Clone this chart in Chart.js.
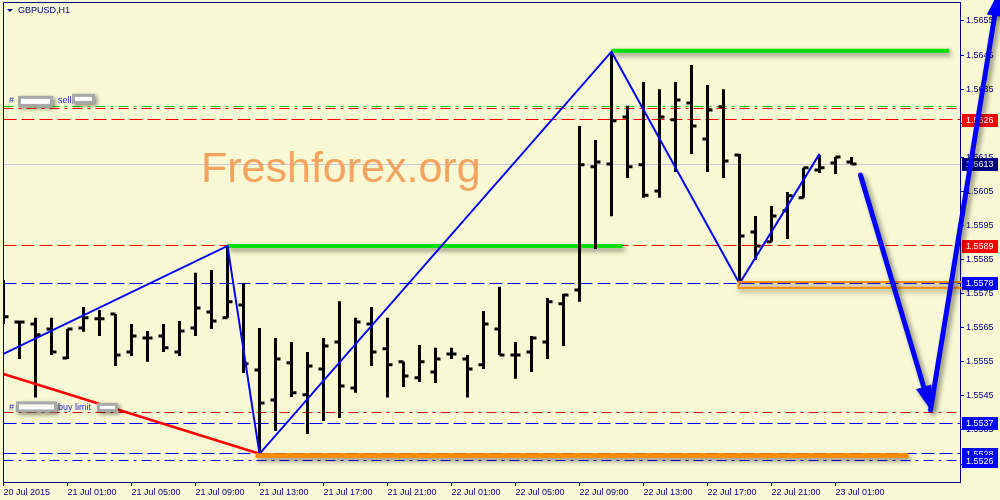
<!DOCTYPE html>
<html>
<head>
<meta charset="utf-8">
<script src="https://cdn.jsdelivr.net/npm/chart.js@4.4.1/dist/chart.umd.min.js"></script>
<style>
html, body { margin: 0; padding: 0; background: #f8f8d4; }
</style>
</head>
<body>
<canvas id="mygraph" width="1000" height="500"></canvas>
<script>
// GBPUSD H1 bars, one per hour from 20 Jul 21:00
let timeLabels = ["20 Jul 2015", "21 Jul 01:00", "21 Jul 05:00", "21 Jul 09:00", "21 Jul 13:00", "21 Jul 17:00", "21 Jul 21:00",
  "22 Jul 01:00", "22 Jul 05:00", "22 Jul 09:00", "22 Jul 13:00", "22 Jul 17:00", "22 Jul 21:00", "23 Jul 01:00"];
var yTickValues = [1.5525, 1.5535, 1.5545, 1.5555, 1.5565, 1.5575, 1.5585, 1.5595, 1.5605, 1.5615, 1.5625, 1.5635, 1.5645, 1.5655];

var opens = [1.55731, 1.55667, 1.55661, 1.55646, 1.55561, 1.55649, 1.55676, 1.55690, 1.55579, 1.55620,
  1.55626, 1.55579, 1.55649, 1.55696, 1.55679, 1.55717, 1.55526, 1.55438, 1.55547, 1.55453,
  1.55529, 1.55608, 1.55473, 1.55661, 1.55588, 1.55550, 1.55503, 1.55520, 1.55573, 1.55558,
  1.55541, 1.55646, 1.55570, 1.55579, 1.55608, 1.55720, 1.55761, 1.56122, 1.56130, 1.56268,
  1.56128, 1.56051, 1.56260, 1.56309, 1.56204, 1.56298, 1.56157, 1.55931, 1.55902, 1.55993,
  1.56031, 1.56113, 1.56133, 1.56136];
var highs = [1.55790, 1.55670, 1.55679, 1.55679, 1.55646, 1.55711, 1.55702, 1.55690, 1.55661, 1.55640,
  1.55661, 1.55670, 1.55811, 1.55819, 1.55890, 1.55781, 1.55649, 1.55620, 1.55608, 1.55579,
  1.55620, 1.55728, 1.55679, 1.55711, 1.55679, 1.55550, 1.55599, 1.55591, 1.55591, 1.55570,
  1.55699, 1.55770, 1.55608, 1.55626, 1.55737, 1.55749, 1.56242, 1.56201, 1.56459, 1.56301,
  1.56371, 1.56350, 1.56371, 1.56421, 1.56362, 1.56350, 1.56160, 1.55978, 1.56007, 1.56048,
  1.56119, 1.56157, 1.56151, 1.56151];
var lows = [1.55661, 1.55558, 1.55445, 1.55570, 1.55558, 1.55638, 1.55626, 1.55538, 1.55567, 1.55550,
  1.55579, 1.55567, 1.55626, 1.55646, 1.55679, 1.55517, 1.55283, 1.55347, 1.55447, 1.55338,
  1.55376, 1.55385, 1.55459, 1.55538, 1.55445, 1.55476, 1.55491, 1.55488, 1.55558, 1.55445,
  1.55529, 1.55570, 1.55500, 1.55520, 1.55558, 1.55596, 1.55726, 1.55881, 1.55977, 1.56089,
  1.56031, 1.56031, 1.56107, 1.56160, 1.56107, 1.56089, 1.55781, 1.55849, 1.55902, 1.55910,
  1.56031, 1.56104, 1.56101, 1.56128];
var closes = [1.55682, 1.55667, 1.55629, 1.55579, 1.55646, 1.55679, 1.55676, 1.55570, 1.55626, 1.55620,
  1.55591, 1.55640, 1.55708, 1.55670, 1.55726, 1.55544, 1.55429, 1.55558, 1.55459, 1.55538,
  1.55596, 1.55479, 1.55667, 1.55579, 1.55541, 1.55508, 1.55550, 1.55558, 1.55573, 1.55529,
  1.55661, 1.55570, 1.55570, 1.55620, 1.55726, 1.55746, 1.56128, 1.56136, 1.56257, 1.56122,
  1.56039, 1.56268, 1.56318, 1.56242, 1.56289, 1.56139, 1.55919, 1.55890, 1.55978, 1.56037,
  1.56119, 1.56119, 1.56151, 1.56130];

// horizontal levels (orders, stops, bid)
var levelPrices = [1.56298, 1.56292, 1.5626, 1.5613, 1.5589, 1.5578, 1.5540, 1.5537, 1.5528, 1.5526];
// prices shown in coloured boxes on the price axis
var markPrices = [1.5626, 1.5613, 1.5589, 1.5578, 1.5537, 1.5528, 1.5526];

// zigzag and trend line (bar index, price)
var zigzagIdx = [0, 14, 16, 38, 46, 51];
var zigzagPrice = [1.55573, 1.5589, 1.5528, 1.5646, 1.5578, 1.5616];
var trendIdx = [0, 16];
var trendPrice = [1.55514, 1.5528];
// green horizontal segments
var greenFrom = [14, 38];
var greenTo = [38.7, 59.1];
var greenPrice = [1.5589, 1.56463];
// orange rectangles
var boxFrom = [45.94, 15.75];
var boxTo = [60.19, 56.56];
var boxTop = [1.55784, 1.55282];
var boxBottom = [1.55767, 1.55268];
// hand drawn forecast arrow
var arrowIdx = [53.56, 57.94, 62.19];
var arrowPrice = [1.56098, 1.55409, 1.56635];

var xMax = 59.78;
var yMin = 1.551973;
var yMax = 1.566057;

var navy = '#000080';
var bg = '#f8f8d4';
var fontFam = "'Liberation Sans', Arial, sans-serif";
var DASH = [13, 5, 13, 5];
var DASHDOT = [10, 5, 3, 5];
var levelColors = ['#00c800', '#ff0000', '#ff0000', '#c8c8d8', '#ff0000', '#0000ff', '#d01010', '#0000ff', '#0000ff', '#0000ff'];
var levelDash = [DASHDOT, DASHDOT, DASH, [], DASH, DASH, DASHDOT, DASH, DASH, DASHDOT];
var markColors = ['#ff0000', '#000080', '#ff0000', '#0000ff', '#0000ff', '#0000ff', '#0000ff'];

function shadowOn(c, blur, dx, dy) {
  c.shadowColor = 'rgba(0,0,0,0.45)';
  c.shadowBlur = blur;
  c.shadowOffsetX = dx;
  c.shadowOffsetY = dy;
}

function drawArrow(c, x1, y1, x2, y2) {
  var ang = Math.atan2(y2 - y1, x2 - x1);
  var hl = 24, hw = 8;
  var bx = x2 - hl * Math.cos(ang), by = y2 - hl * Math.sin(ang);
  c.beginPath();
  c.moveTo(x1, y1);
  c.lineTo(bx, by);
  c.stroke();
  c.beginPath();
  c.moveTo(x2, y2);
  c.lineTo(bx + hw * Math.sin(ang), by - hw * Math.cos(ang));
  c.lineTo(bx - hw * Math.sin(ang), by + hw * Math.cos(ang));
  c.closePath();
  c.fill();
}

function hiddenTag(c, x, y, w, h) {
  c.save();
  shadowOn(c, 4, 2, 2);
  c.fillStyle = '#a8a8a8';
  c.fillRect(x, y, w, h);
  c.restore();
  c.fillStyle = '#ffffff';
  c.fillRect(x + 3, y + 3, w - 6, h - 6);
}

const chartDecor = {
  id: 'chartDecor',
  beforeDraw(chart) {
    var c = chart.ctx;
    c.save();
    c.fillStyle = bg;
    c.fillRect(0, 0, chart.width, chart.height);
    c.restore();
  },
  beforeDatasetDraw(chart, args) {
    var ds = chart.data.datasets[args.index];
    if (ds.shadow || ds.crisp) chart.ctx.save();
    if (ds.shadow) shadowOn(chart.ctx, 5, 2, 3);
    if (ds.crisp) {
      // snap 1px level lines onto a pixel row
      var y = chart.scales.y.getPixelForValue(ds.data[0].y);
      chart.ctx.translate(0, Math.floor(y) + 0.5 - y);
    }
  },
  afterDatasetDraw(chart, args) {
    var ds = chart.data.datasets[args.index];
    if (ds.shadow || ds.crisp) chart.ctx.restore();
  },
  afterDatasetsDraw(chart) {
    var c = chart.ctx, xs = chart.scales.x, ys = chart.scales.y;
    c.save();
    // watermark
    c.font = "43px " + fontFam;
    c.fillStyle = '#f5a460';
    c.textBaseline = 'alphabetic';
    c.fillText('Freshforex.org', 201, 182);

    // order labels with hidden ticket numbers
    c.font = "9px " + fontFam;
    c.textBaseline = 'middle';
    c.fillStyle = '#2828c0';
    var ySell = ys.getPixelForValue(levelPrices[0]) - 6;
    c.fillText('#', 9, ySell);
    c.fillText('sell', 58, ySell);
    hiddenTag(c, 18, ySell - 5, 35, 11);
    hiddenTag(c, 72, ySell - 7, 23, 10);
    var yBuy = ys.getPixelForValue(levelPrices[6]) - 5.5;
    c.fillStyle = '#2828c0';
    c.fillText('#', 9, yBuy);
    c.fillText('buy limit', 58, yBuy);
    hiddenTag(c, 16, yBuy - 6, 41, 11);
    hiddenTag(c, 97, yBuy - 4.5, 21, 9);

    // orange rectangles
    for (var k = 0; k < boxFrom.length; k++) {
      var x1 = xs.getPixelForValue(boxFrom[k]), x2 = xs.getPixelForValue(boxTo[k]);
      var y1 = ys.getPixelForValue(boxTop[k]), y2 = ys.getPixelForValue(boxBottom[k]);
      c.save();
      shadowOn(c, 5, 2, 3);
      if (k === 0) {
        c.strokeStyle = '#ff8c00';
        c.lineWidth = 2;
        c.strokeRect(x1, y1, x2 - x1, y2 - y1);
      } else {
        c.fillStyle = '#ff8c00';
        c.fillRect(x1, y1, x2 - x1, y2 - y1);
      }
      c.restore();
    }
    c.restore();
  },
  afterDraw(chart) {
    var c = chart.ctx, a = chart.chartArea, xs = chart.scales.x, ys = chart.scales.y;
    c.save();
    // frame
    c.strokeStyle = navy;
    c.lineWidth = 1;
    c.beginPath();
    c.moveTo(Math.floor(a.left) + 0.5, Math.floor(a.bottom) + 0.5);
    c.lineTo(Math.floor(a.left) + 0.5, Math.floor(a.top) + 0.5);
    c.lineTo(Math.floor(a.right) + 0.5, Math.floor(a.top) + 0.5);
    c.stroke();

    // symbol caption
    c.fillStyle = navy;
    c.beginPath();
    c.moveTo(7, 9); c.lineTo(13, 9); c.lineTo(10, 12); c.closePath();
    c.fill();
    c.font = "9px " + fontFam;
    c.textBaseline = 'middle';
    c.fillText('GBPUSD,H1', 18, 10.5);

    // price boxes on the axis
    for (var k = 0; k < markPrices.length; k++) {
      var y = ys.getPixelForValue(markPrices[k]);
      c.fillStyle = markColors[k];
      c.fillRect(a.right + 2, Math.round(y) - 6, 36, 13);
      c.fillStyle = '#ffffff';
      c.fillText(markPrices[k].toFixed(4), a.right + 6, Math.round(y) + 0.5);
    }

    // forecast arrow
    var p = arrowIdx.map(function (v, i) {
      return [xs.getPixelForValue(v), ys.getPixelForValue(arrowPrice[i])];
    });
    shadowOn(c, 5, 3, 3);
    c.strokeStyle = '#0000ff';
    c.fillStyle = '#0000ff';
    c.lineWidth = 5;
    c.lineCap = 'round';
    drawArrow(c, p[0][0], p[0][1], p[1][0], p[1][1]);
    drawArrow(c, p[1][0], p[1][1], p[2][0], p[2][1]);
    c.restore();
  }
};

var datasets = [];
levelPrices.forEach(function (v, k) {
  datasets.push({
    type: 'line',
    data: [{ x: 0, y: v }, { x: xMax, y: v }],
    borderColor: levelColors[k],
    borderWidth: 1,
    borderDash: levelDash[k],
    pointRadius: 0,
    crisp: true,
    order: 10
  });
});
greenPrice.forEach(function (v, k) {
  datasets.push({
    type: 'line',
    data: [{ x: greenFrom[k], y: v }, { x: greenTo[k], y: v }],
    borderColor: '#00e000',
    borderWidth: 4,
    pointRadius: 0,
    shadow: true,
    order: 8
  });
});
datasets.push({
  type: 'bar',
  data: highs.map(function (h, i) { return { x: i, y: [lows[i], h] }; }),
  backgroundColor: '#000000',
  borderWidth: 0,
  barThickness: 3,
  inflateAmount: 0,
  order: 5
});
datasets.push({
  type: 'line',
  data: opens.map(function (o, i) { return { x: i - 0.156, y: o }; }),
  showLine: false,
  pointStyle: 'line',
  pointRadius: 2.5,
  pointBorderWidth: 3,
  pointBorderColor: '#000000',
  order: 5
});
datasets.push({
  type: 'line',
  data: closes.map(function (o, i) { return { x: i + 0.156, y: o }; }),
  showLine: false,
  pointStyle: 'line',
  pointRadius: 2.5,
  pointBorderWidth: 3,
  pointBorderColor: '#000000',
  order: 5
});
datasets.push({
  type: 'line',
  data: trendIdx.map(function (v, i) { return { x: v, y: trendPrice[i] }; }),
  borderColor: '#ff0000',
  borderWidth: 2.5,
  pointRadius: 0,
  order: 2
});
datasets.push({
  type: 'line',
  data: zigzagIdx.map(function (v, i) { return { x: v, y: zigzagPrice[i] }; }),
  borderColor: '#0000ff',
  borderWidth: 2,
  pointRadius: 0,
  order: 1
});

var tickFont = { family: fontFam, size: 9 };
var ctx = document.getElementById("mygraph");

var mygraph = new Chart(ctx, {
  type: 'bar',
  data: { datasets: datasets },
  options: {
    responsive: false,
    animation: false,
    events: [],
    layout: { autoPadding: false, padding: { left: 3.5, top: 2, right: 0, bottom: 0 } },
    plugins: { legend: { display: false }, tooltip: { enabled: false } },
    scales: {
      x: {
        type: 'linear',
        min: 0,
        max: xMax,
        offset: false,
        grid: { drawOnChartArea: false, offset: false, color: navy, tickLength: 4 },
        border: { color: navy },
        ticks: {
          autoSkip: false, maxRotation: 0, minRotation: 0, align: 'start',
          color: navy, font: tickFont, padding: 1,
          callback: function (v, i) { return timeLabels[i]; }
        },
        afterBuildTicks: function (s) {
          s.ticks = timeLabels.map(function (t, k) { return { value: k * 4 }; });
        },
        afterFit: function (s) { s.height = 18; s.paddingLeft = 0; s.paddingRight = 0; }
      },
      y: {
        type: 'linear',
        position: 'right',
        min: yMin,
        max: yMax,
        beginAtZero: false,
        grid: { drawOnChartArea: false, color: navy, tickLength: 4 },
        border: { color: navy },
        ticks: {
          color: navy, font: tickFont, padding: 2,
          callback: function (v) { return v.toFixed(4); }
        },
        afterBuildTicks: function (s) {
          s.ticks = yTickValues.map(function (v) { return { value: v }; });
        },
        afterFit: function (s) { s.width = 40; s.paddingTop = 0; s.paddingBottom = 0; }
      }
    }
  },
  plugins: [chartDecor]
});
</script>
</body>
</html>
